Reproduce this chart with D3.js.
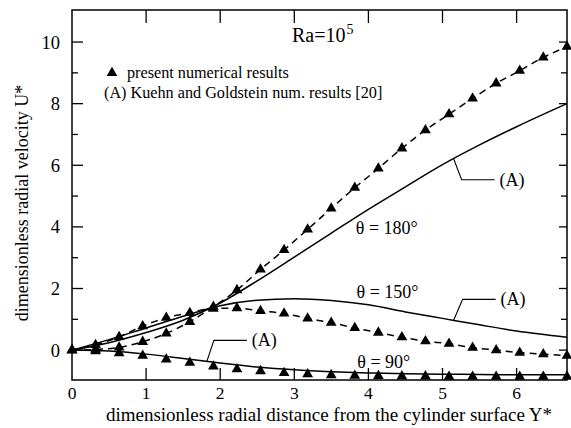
<!DOCTYPE html>
<html>
<head>
<meta charset="utf-8">
<script src="https://cdn.jsdelivr.net/npm/d3@7"></script>
<style>
  html, body { margin: 0; padding: 0; background: #fff; }
  svg { display: block; }
  text { font-family: "Liberation Serif", "Times New Roman", serif; fill: #000; }
</style>
</head>
<body>
<svg id="chart" width="571" height="428"></svg>
<script>
// Radial velocity profiles, Ra = 1e5
const xTicks = [0, 1, 2, 3, 4, 5, 6];
const yTicks = [0, 2, 4, 6, 8, 10];
const yMinorTicks = [1, 3, 5, 7, 9];

// Sample positions of the present numerical results
const numX = [0, 0.318, 0.636, 0.954, 1.272, 1.59, 1.908, 2.226, 2.544, 2.862, 3.18,
              3.498, 3.816, 4.134, 4.452, 4.77, 5.088, 5.406, 5.724, 6.042, 6.36, 6.68];
const num180 = [0, 0.02, 0.09, 0.27, 0.54, 0.92, 1.41, 1.95, 2.62, 3.25, 3.92,
                4.60, 5.27, 5.90, 6.55, 7.14, 7.66, 8.17, 8.66, 9.07, 9.50, 9.85];
const num150 = [0, 0.17, 0.43, 0.78, 1.05, 1.21, 1.35, 1.36, 1.27, 1.19, 1.03,
                0.89, 0.72, 0.57, 0.42, 0.29, 0.21, 0.08, 0.00, -0.08, -0.13, -0.18];
const num90  = [0, -0.03, -0.10, -0.18, -0.30, -0.41, -0.53, -0.62, -0.68, -0.74, -0.78,
                -0.81, -0.83, -0.84, -0.85, -0.85, -0.86, -0.86, -0.86, -0.86, -0.86, -0.86];

// Kuehn and Goldstein results (A)
const refX   = [0, 0.5, 1, 1.5, 2, 2.5, 3, 3.5, 4, 4.5, 5, 5.5, 6, 6.68];
const ref180 = [0, 0.24, 0.57, 0.97, 1.53, 2.25, 3.02, 3.80, 4.57, 5.30, 6.02, 6.66, 7.25, 8.0];
const ref150 = [0, 0.34, 0.72, 1.10, 1.44, 1.62, 1.67, 1.61, 1.47, 1.24, 1.03, 0.82, 0.62, 0.42];
const ref90  = [0, -0.03, -0.13, -0.27, -0.42, -0.55, -0.64, -0.70, -0.74, -0.77, -0.78, -0.79, -0.80, -0.80];

// Curve labels and (A) call-outs
const angleLabels = [
  { text: "\u03b8 = 180\u00b0", x: 3.83, y: 3.98 },
  { text: "\u03b8 = 150\u00b0", x: 3.84, y: 1.88 },
  { text: "\u03b8 = 90\u00b0",  x: 3.85, y: -0.38 }
];
const callouts = [
  { series: ref180, at: 5.15, elbowDx: 8, elbowDy: 21 },
  { series: ref150, at: 5.15, elbowDx: 9, elbowDy: -21 },
  { series: ref90,  at: 1.82, elbowDx: 7, elbowDy: -21 }
];

const svg = d3.select("#chart");
const margin = { left: 72, top: 10, right: 4, bottom: 48 };
const W = 571, H = 428;
const x = d3.scaleLinear().domain([0, 6.68]).range([margin.left, W - margin.right]);
const y = d3.scaleLinear().domain([-0.97, 11.04]).range([H - margin.bottom, margin.top]);

const stroke = "#000";

// Frame
svg.append("rect")
  .attr("x", x(0)).attr("y", y(11.04))
  .attr("width", x(6.68) - x(0)).attr("height", y(-0.97) - y(11.04))
  .attr("fill", "none").attr("stroke", stroke).attr("stroke-width", 1.5);

// Inward ticks on all four sides
const tickG = svg.append("g").attr("stroke", stroke).attr("stroke-width", 1.3);
xTicks.filter(d => d > 0).forEach(d => {
  tickG.append("line").attr("x1", x(d)).attr("x2", x(d)).attr("y1", y(-0.97)).attr("y2", y(-0.97) - 12);
  tickG.append("line").attr("x1", x(d)).attr("x2", x(d)).attr("y1", y(11.04)).attr("y2", y(11.04) + 13);
});
yTicks.forEach(d => {
  tickG.append("line").attr("x1", x(0)).attr("x2", x(0) + 11).attr("y1", y(d)).attr("y2", y(d));
  tickG.append("line").attr("x1", x(6.68)).attr("x2", x(6.68) - 8).attr("y1", y(d)).attr("y2", y(d));
});
yMinorTicks.forEach(d => {
  tickG.append("line").attr("x1", x(0)).attr("x2", x(0) + 6).attr("y1", y(d)).attr("y2", y(d));
  tickG.append("line").attr("x1", x(6.68)).attr("x2", x(6.68) - 6).attr("y1", y(d)).attr("y2", y(d));
});

// Tick labels
svg.append("g").selectAll("text").data(xTicks).join("text")
  .attr("x", d => x(d)).attr("y", y(-0.97) + 19)
  .attr("text-anchor", "middle").attr("font-size", 17.5).text(d => d);
svg.append("g").selectAll("text").data(yTicks).join("text")
  .attr("x", x(0) - 12).attr("y", d => y(d) + 6.5)
  .attr("text-anchor", "end").attr("font-size", 18.5).text(d => d);

// Axis titles
svg.append("text")
  .attr("x", 329).attr("y", 421).attr("text-anchor", "middle").attr("font-size", 19)
  .text("dimensionless radial distance from the cylinder surface Y*");
svg.append("text")
  .attr("transform", "translate(28,203) rotate(-90)")
  .attr("text-anchor", "middle").attr("font-size", 18)
  .text("dimensionless radial velocity U*");

// Lines
const solid = d3.line().x((d, i) => x(refX[i])).y(d => y(d)).curve(d3.curveMonotoneX);
const dashed = d3.line().x((d, i) => x(numX[i])).y(d => y(d)).curve(d3.curveMonotoneX);

[ref180, ref150, ref90].forEach(s => {
  svg.append("path").attr("d", solid(s)).attr("fill", "none")
    .attr("stroke", stroke).attr("stroke-width", 1.5);
});
[num180, num150].forEach(s => {
  svg.append("path").attr("d", dashed(s)).attr("fill", "none")
    .attr("stroke", stroke).attr("stroke-width", 1.5).attr("stroke-dasharray", "7,5");
});

// Triangle markers
const tri = d3.symbol().type(d3.symbolTriangle).size(50);
[num180, num150, num90].forEach(s => {
  svg.append("g").selectAll("path").data(s).join("path")
    .attr("d", tri)
    .attr("transform", (d, i) => `translate(${x(numX[i])},${y(d)})`)
    .attr("fill", "#000");
});

// Legend
svg.append("path").attr("d", tri)
  .attr("transform", `translate(112,73)`).attr("fill", "#000");
svg.append("text").attr("x", 127).attr("y", 77.5).attr("font-size", 16.2)
  .text("present numerical results");
svg.append("text").attr("x", 104).attr("y", 97.5).attr("font-size", 16.2)
  .text("(A) Kuehn and Goldstein num. results [20]");

// Rayleigh number
const ra = svg.append("text").attr("x", 292).attr("y", 42).attr("font-size", 20);
ra.append("tspan").text("Ra=10");
ra.append("tspan").attr("dx", 1).attr("dy", -8).attr("font-size", 14).text("5");

// Angle labels
svg.append("g").selectAll("text").data(angleLabels).join("text")
  .attr("x", d => x(d.x)).attr("y", d => y(d.y) + 6)
  .attr("font-size", 18).text(d => d.text);

// (A) call-outs: leader from the curve, then a horizontal rule to the label
const interp = (xs, ys, v) => {
  const i = Math.max(1, d3.bisectLeft(xs, v));
  const t = (v - xs[i - 1]) / (xs[i] - xs[i - 1]);
  return ys[i - 1] + t * (ys[i] - ys[i - 1]);
};
callouts.forEach(c => {
  const px = x(c.at), py = y(interp(refX, c.series, c.at));
  const ex = px + c.elbowDx, ey = py + c.elbowDy;
  svg.append("path")
    .attr("d", `M${px},${py}L${ex},${ey}L${ex + 33},${ey}`)
    .attr("fill", "none").attr("stroke", stroke).attr("stroke-width", 1.1);
  svg.append("text").attr("x", ex + 38).attr("y", ey + 6).attr("font-size", 18).text("(A)");
});
</script>
</body>
</html>
